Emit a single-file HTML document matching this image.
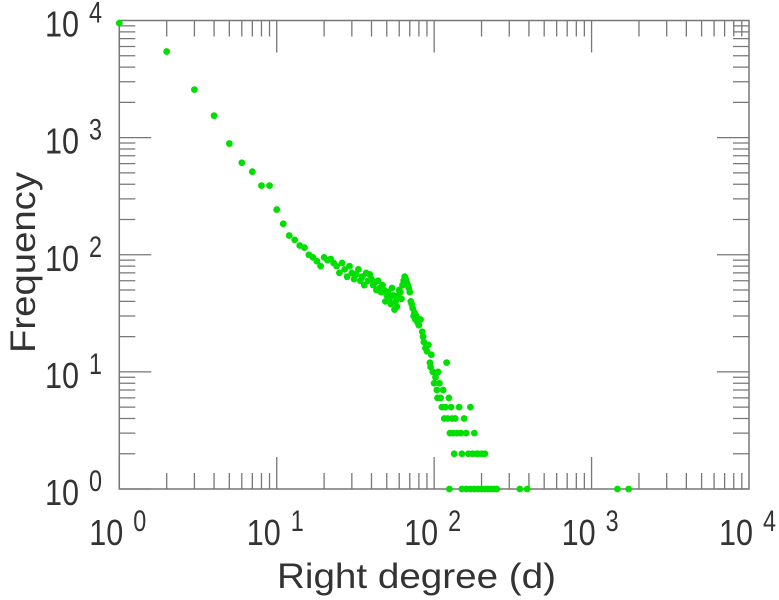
<!DOCTYPE html>
<html><head><meta charset="utf-8"><style>
body{margin:0;background:#fff}
svg{display:block;font-family:"Liberation Sans",sans-serif}
</style></head><body>
<svg id="chart" width="779" height="600"></svg>
<script>
const degrees=[1,2,3,4,5,6,7,8,9,10,11,12,13,14,15,16,17,18,19,20,21,22,23,24,25,26,27,28,29,30,31,32,33,34,35,36,37,38,39,40,41,42,43,44,45,46,47,48,49,50,51,52,53,54,55,56,57,58,59,60,61,62,63,64,65,66,67,68,69,70,71,72,73,74,75,76,77,78,79,80,82,84,85,86,88,90,92,94,95,96,98,100,102,104,105,106,108,110,112,114,116,118,120,122,124,126,128,130,132,134,136,140,144,148,150,155,160,165,170,175,180,185,190,200,210,125,150,160,170,180,190,200,210,220,230,240,250,350,390,1460,1720];
const frequencies=[9500,5430,2570,1540,890,610,512,389,389,243,184,146,134,120,115,100,95,88,80,95,90,92,85,80,70,85,75,65,80,70,62,68,75,60,65,55,70,60,68,62,55,58,50,60,52,48,55,50,40,45,48,42,38,52,45,34,40,36,45,50,48,42,55,60,65,62,58,55,52,48,40,38,35,30,32,28,30,27,26,25,28,22,20,18,16,15,17,12,11,14,10,8,9,7,6,10,8,6,5,7,4,5,12,4,6,3,5,4,3,2,4,3,5,3,2,4,3,2,5,2,3,2,2,2,2,1,1,1,1,1,1,1,1,1,1,1,1,1,1,1,1];
const xTickExps=[0,1,2,3,4];
const yTickExps=[0,1,2,3,4];
const X0=119.3,X1=749,Y0=489,Y1=20.5;
const xs=v=>X0+(Math.log10(v)-0)/4*(X1-X0);
const ys=v=>Y0-(Math.log10(v)-0)/4*(Y0-Y1);
const svg=document.getElementById('chart');
const NS='http://www.w3.org/2000/svg';
function mk(t,a){const e=document.createElementNS(NS,t);for(const k in a)e.setAttribute(k,a[k]);svg.appendChild(e);return e;}
let f=mk('rect',{x:X0,y:Y1,width:X1-X0,height:Y0-Y1,fill:'none',stroke:'#777','stroke-width':1.5});


for(let e=0;e<4;e++){for(let m=1;m<10;m++){const v=m*Math.pow(10,e);const L=m==1?32:16;
 const x=xs(v);const y=ys(v);
 let t=mk('path',{d:`M${x},${Y0}v${-L}M${x},${Y1}v${L}M${X0},${y}h${L}M${X1},${y}h${-L}`,stroke:'#777','stroke-width':1.3,fill:'none'});
 
 
}}
function lab(x,y,e,name){
 const t=mk('text',{x:x,y:y,'font-size':36,fill:'#333',textLength:34,lengthAdjust:'spacingAndGlyphs'});
 t.textContent='10';
 
 
 const s=mk('text',{x:x+44,y:y-14,'font-size':30,fill:'#333',textLength:13,lengthAdjust:'spacingAndGlyphs'});
 s.textContent=String(e);
 
 
}
xTickExps.forEach(e=>lab(xs(Math.pow(10,e))-30,545,e,'x-tick-label'));
yTickExps.forEach(e=>lab(45,ys(Math.pow(10,e))+16,e,'y-tick-label'));
let xt=mk('text',{x:277,y:588,'font-size':35,fill:'#333',textLength:279,lengthAdjust:'spacingAndGlyphs'});xt.textContent='Right degree (d)';


let yt=mk('text',{x:0,y:0,'font-size':35,fill:'#333',textLength:181,lengthAdjust:'spacingAndGlyphs',transform:'translate(35,353) rotate(-90)'});yt.textContent='Frequency';


degrees.forEach((d,i)=>{const c=mk('circle',{cx:xs(d),cy:ys(frequencies[i]),r:3.4,fill:'#00e000'});
 
 });
</script>
</body></html>
